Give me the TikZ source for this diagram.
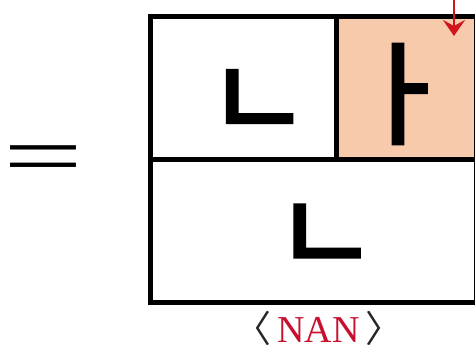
\documentclass[tikz,border=0pt]{standalone}
\usepackage{fontspec}
\setmainfont{Liberation Serif}
\newfontfamily\kofont{Noto Sans CJK KR}
\newfontfamily\jamofont{Noto Sans CJK KR}[FakeBold=3]
\usetikzlibrary{arrows.meta}
\definecolor{peach}{HTML}{F7CAAC}
\definecolor{nanred}{HTML}{C8102E}
\definecolor{arrowred}{HTML}{D2141E}

\begin{document}
\begin{tikzpicture}[x=1pt, y=-1pt, line width=5pt,
  jamo/.style={inner sep=0pt, font=\jamofont\fontsize{112}{112}\selectfont}]
\useasboundingbox (0, 0) rectangle (475, 347);

% Cells
\fill[peach] (336, 16.7) rectangle (476, 160);
\draw (150, 16.7) rectangle (476, 302.5);
\draw (150, 160) -- (476, 160);
\draw (336, 16.7) -- (336, 160);

% Jamo
\node[jamo] (initial) at (258.5, 104.5) {ㄴ};
\node[jamo] (vowel) at (401, 94) {ㅏ};
\node[jamo] (final) at (326, 239) {ㄴ};

\node[inner sep=0pt, font=\fontsize{99}{99}\selectfont] (equals) at (43, 165.5) {\scalebox{1.43}[0.88]{=}};
\node[inner sep=0pt, font=\fontsize{38}{38}\selectfont] (name) at (318.5, 328)
  {{\kofont\fontsize{37}{37}\selectfont\color{black!85}〈}\kern6pt\textcolor{nanred}{NAN}\kern6pt{\kofont\fontsize{37}{37}\selectfont\color{black!85}〉}};

% Arrow
\coordinate (arrowtop) at (454, 0);
\coordinate (arrowtip) at (454, 36);
\draw[arrowred, line width=2.5pt, -{Stealth[length=16pt, width=22pt, inset=6pt]}] (arrowtop) -- (arrowtip);
\end{tikzpicture}
\end{document}
